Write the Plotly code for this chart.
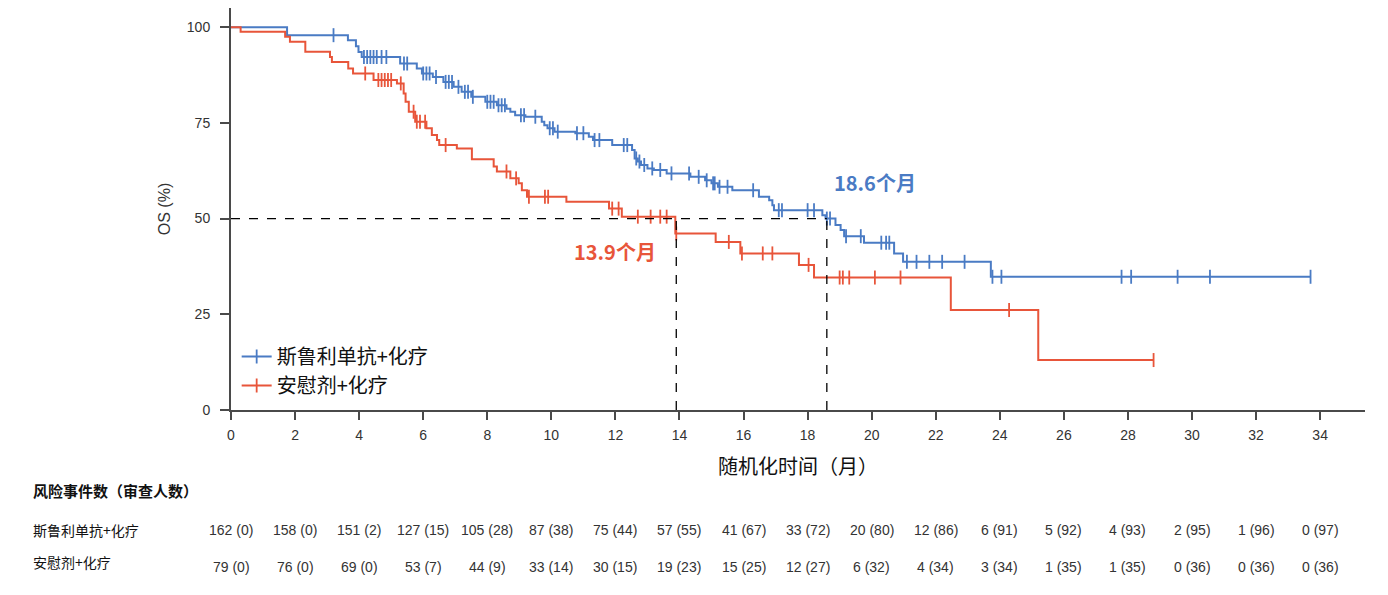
import numpy as np
import plotly.graph_objects as go

# ---------------- data ----------------
arm_names = ["斯鲁利单抗+化疗", "安慰剂+化疗"]

# Serplulimab + chemo: KM steps (months, OS %)
blue_t = [0, 1.75, 3.65, 3.9, 3.98, 4.08, 5.28, 5.8, 5.96, 6.3, 6.63, 6.95, 7.2, 7.5, 7.94,
          8.3, 8.6, 8.72, 8.87, 9.19, 9.7, 9.78, 9.88, 10.1, 10.75, 11.17, 11.3, 11.9, 12.52,
          12.6, 12.7, 12.8, 13.0, 13.2, 13.6, 14.34, 14.8, 15.0, 15.2, 15.65, 16.48, 16.8,
          16.9, 16.95, 18.46, 18.56, 18.87, 19.03, 19.14, 19.76, 20.7, 20.98, 23.72]
blue_s = [100, 97.9, 96.6, 95.0, 93.5, 92.2, 90.5, 89.2, 87.9, 87.0, 85.7, 84.4, 83.1, 81.8, 80.5,
          79.6, 78.7, 77.9, 77.0, 76.6, 75.3, 74.4, 73.6, 72.7, 72.3, 71.4, 70.5, 69.2, 67.9,
          65.7, 64.9, 64.0, 63.1, 62.7, 61.8, 60.9, 60.0, 59.2, 58.3, 57.4, 55.7, 54.8,
          53.5, 52.2, 50.9, 50.0, 48.3, 47.0, 45.4, 43.7, 40.9, 38.7, 34.8]
blue_end = 33.7
blue_cens = [3.2, 4.15, 4.25, 4.35, 4.45, 4.55, 4.7, 4.85, 5.4, 5.5, 6.0, 6.1, 6.2, 6.4, 6.7,
             6.8, 6.9, 7.1, 7.3, 7.4, 7.55, 8.0, 8.1, 8.2, 8.35, 8.45, 8.55, 9.05, 9.15, 9.5,
             9.95, 10.05, 10.2, 10.8, 11.0, 11.35, 11.5, 12.26, 12.37, 12.65, 12.75, 12.9,
             13.15, 13.4, 13.75, 14.3, 14.6, 14.85, 15.05, 15.1, 15.25, 15.5, 16.3, 17.1,
             17.2, 18.0, 18.2, 18.6, 18.7, 19.2, 19.66, 20.3, 20.45, 20.55, 21.1, 21.4, 21.8,
             22.2, 22.9, 23.77, 24.05, 27.8, 28.1, 29.55, 30.56, 33.7]

# Placebo + chemo
red_t = [0, 0.3, 1.69, 1.84, 2.32, 3.09, 3.15, 3.66, 3.81, 4.45, 5.18, 5.39, 5.45, 5.55, 5.75,
         6.1, 6.27, 6.43, 6.5, 7.05, 7.52, 8.2, 8.3, 8.72, 8.98, 9.08, 9.24, 10.47, 11.8,
         12.2, 13.87, 15.13, 15.9, 17.73, 18.2, 22.47, 25.2]
red_s = [100, 98.8, 97.5, 96.2, 93.6, 92.2, 90.9, 89.2, 87.9, 86.2, 85.3, 82.7, 80.5, 77.9, 75.3,
         73.6, 71.8, 70.5, 69.2, 68.3, 65.5, 63.6, 62.3, 60.5, 59.2, 57.4, 55.7, 54.4, 52.6,
         50.5, 46.1, 43.9, 40.9, 37.9, 34.6, 26.1, 13.05]
red_end = 28.8
red_cens = [4.19, 4.6, 4.7, 4.8, 4.9, 5.0, 5.3, 5.7, 5.8, 5.9, 6.06, 6.7, 8.6, 8.9, 9.3, 9.8,
            9.9, 11.9, 12.1, 12.7, 13.1, 13.4, 13.6, 13.9, 15.54, 15.95, 16.6, 16.9, 18.03,
            19.0, 19.1, 19.3, 20.1, 20.9, 24.29, 28.8]

medians = [18.6, 13.9]
median_labels = ["18.6个月", "13.9个月"]

x_ticks = list(range(0, 35, 2))
y_ticks = [0, 25, 50, 75, 100]

risk_header = "风险事件数（审查人数）"
risk_blue = ["162 (0)", "158 (0)", "151 (2)", "127 (15)", "105 (28)", "87 (38)", "75 (44)",
             "57 (55)", "41 (67)", "33 (72)", "20 (80)", "12 (86)", "6 (91)", "5 (92)",
             "4 (93)", "2 (95)", "1 (96)", "0 (97)"]
risk_red = ["79 (0)", "76 (0)", "69 (0)", "53 (7)", "44 (9)", "33 (14)", "30 (15)", "19 (23)",
            "15 (25)", "12 (27)", "6 (32)", "4 (34)", "3 (34)", "1 (35)", "1 (35)", "0 (36)",
            "0 (36)", "0 (36)"]

# ---------------- styles ----------------
BLUE = "#4A7BC4"
RED = "#E8553A"
TXT = "#333333"
AX = "#4a4a4a"
FONT = "Liberation Sans, Noto Sans CJK SC, sans-serif"
CJK = "Noto Sans CJK SC, sans-serif"

# page geometry (the page body adds an 8 px offset)
OFF = 8
FIG_W, FIG_H = 1388 - 2 * OFF, 595 - 2 * OFF
PLOT_L, PLOT_R, PLOT_T, PLOT_B = 231, 1365, 8, 410   # page pixels
PLOT_W, PLOT_H = PLOT_R - PLOT_L, PLOT_B - PLOT_T


def py(pix):
    return (PLOT_B - pix) / PLOT_H


def px(pix):
    return (pix - PLOT_L) / PLOT_W


def step_value(times, surv, t):
    idx = np.searchsorted(np.array(times), t, side="right") - 1
    return float(np.array(surv)[idx])


fig = go.Figure()

arms = [
    (arm_names[0], blue_t, blue_s, blue_end, blue_cens, BLUE),
    (arm_names[1], red_t, red_s, red_end, red_cens, RED),
]

for name, t, s, end, cens, col in arms:
    fig.add_trace(go.Scatter(
        x=list(t) + [end], y=list(s) + [s[-1]], mode="lines",
        line=dict(color=col, width=2, shape="hv"),
        showlegend=False, hoverinfo="skip"))
    cy = [step_value(t, s, c) for c in cens]
    fig.add_trace(go.Scatter(
        x=cens, y=cy, mode="markers",
        marker=dict(symbol="line-ns", size=10, line=dict(color=col, width=1.8)),
        showlegend=False, hoverinfo="skip"))
    # legend entry
    fig.add_trace(go.Scatter(
        x=[None], y=[None], mode="lines+markers", name=name,
        line=dict(color=col, width=2),
        marker=dict(symbol="line-ns", size=10, line=dict(color=col, width=1.8))))

# median dashed lines
fig.add_shape(type="line", x0=0, x1=medians[0], y0=50, y1=50,
              line=dict(color="black", width=1.3, dash="dash"))
for m in medians:
    fig.add_shape(type="line", x0=m, x1=m, y0=0, y1=50,
                  line=dict(color="black", width=1.3, dash="dash"))

# median labels
fig.add_annotation(x=20.1, y=59.5, text="<b>" + median_labels[0] + "</b>",
                   showarrow=False, xanchor="center", yanchor="middle",
                   font=dict(family=CJK, size=20, color=BLUE))
fig.add_annotation(x=12.0, y=41.5, text="<b>" + median_labels[1] + "</b>",
                   showarrow=False, xanchor="center", yanchor="middle",
                   font=dict(family=CJK, size=20, color=RED))

# axis line extensions (past origin)
fig.add_shape(type="line", xref="paper", yref="paper", x0=px(222), x1=0, y0=0, y1=0,
              line=dict(color=AX, width=2))
fig.add_shape(type="line", xref="paper", yref="paper", x0=0, x1=0, y0=py(416), y1=0,
              line=dict(color=AX, width=2))

# risk table
fig.add_annotation(xref="paper", yref="paper", x=px(31), y=py(490), xanchor="left",
                   yanchor="middle", text="<b>" + risk_header + "</b>", showarrow=False,
                   font=dict(family=CJK, size=15, color="#111"))
fig.add_annotation(xref="paper", yref="paper", x=px(31), y=py(530), xanchor="left",
                   yanchor="middle", text=arm_names[0], showarrow=False,
                   font=dict(family=CJK, size=14, color="#111"))
fig.add_annotation(xref="paper", yref="paper", x=px(31), y=py(562), xanchor="left",
                   yanchor="middle", text=arm_names[1], showarrow=False,
                   font=dict(family=CJK, size=14, color="#111"))
for xt, vb, vr in zip(x_ticks, risk_blue, risk_red):
    fig.add_annotation(xref="x", yref="paper", x=xt, y=py(530), text=vb, showarrow=False,
                       xanchor="center", yanchor="middle",
                       font=dict(family=FONT, size=14, color=TXT))
    fig.add_annotation(xref="x", yref="paper", x=xt, y=py(567), text=vr, showarrow=False,
                       xanchor="center", yanchor="middle",
                       font=dict(family=FONT, size=14, color=TXT))

fig.update_layout(
    width=FIG_W, height=FIG_H,
    margin=dict(l=PLOT_L - OFF, r=FIG_W - (PLOT_R - OFF), t=PLOT_T - OFF,
                b=FIG_H - (PLOT_B - OFF)),
    plot_bgcolor="white", paper_bgcolor="white",
    font=dict(family=FONT, size=13, color=TXT),
    legend=dict(x=0.005, y=py(337), xanchor="left", yanchor="top",
                font=dict(family=CJK, size=20, color="#111"),
                bgcolor="rgba(0,0,0,0)", itemwidth=30, tracegroupgap=2),
    xaxis=dict(range=[0, 35.4], tickmode="array", tickvals=x_ticks,
               showgrid=False, zeroline=False, showline=True, linecolor=AX, linewidth=2,
               ticks="outside", ticklen=8, tickwidth=2, tickcolor=AX,
               ticklabelstandoff=3,
               tickfont=dict(size=14, color=TXT),
               title=dict(text="随机化时间（月）", standoff=18,
                          font=dict(family=CJK, size=20, color="#111"))),
    yaxis=dict(range=[0, 105], tickmode="array", tickvals=y_ticks,
               showgrid=False, zeroline=False, showline=True, linecolor=AX, linewidth=2,
               ticks="outside", ticklen=9, tickwidth=2, tickcolor=AX,
               ticklabelstandoff=7,
               tickfont=dict(size=14, color=TXT),
               title=dict(text="OS (%)", standoff=12, font=dict(size=16, color=TXT))),
)

fig.write_html("out.html")
